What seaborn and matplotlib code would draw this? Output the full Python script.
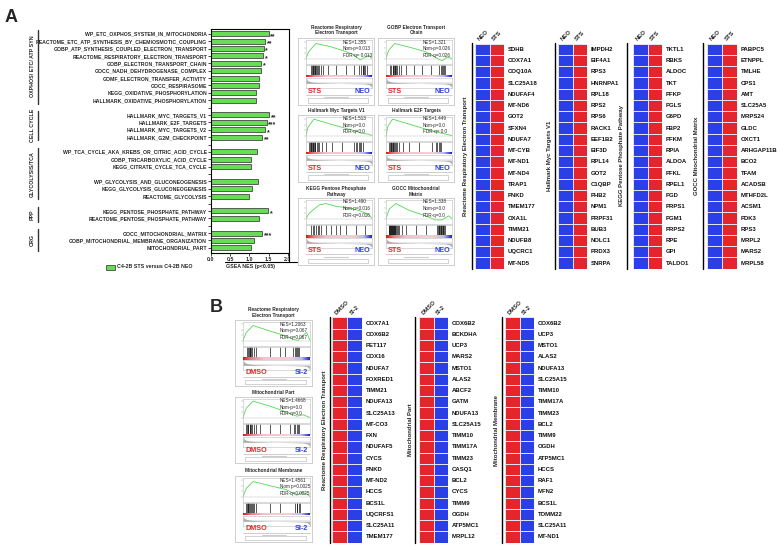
import numpy as np
import pandas as pd
import matplotlib
matplotlib.use("Agg")
import matplotlib.pyplot as plt
import seaborn as sns
from matplotlib.colors import ListedColormap, LinearSegmentedColormap
from matplotlib.patches import Rectangle
from matplotlib.lines import Line2D

# ---------------- data ----------------
pathways = [
    "WP_ETC_OXPHOS_SYSTEM_IN_MITOCHONDRIA",
    "REACTOME_ETC_ATP_SYNTHESIS_BY_CHEMIOSMOTIC_COUPLING",
    "GOBP_ATP_SYNTHESIS_COUPLED_ELECTRON_TRANSPORT",
    "REACTOME_RESPIRATORY_ELECTRON_TRANSPORT",
    "GOBP_ELECTRON_TRANSPORT_CHAIN",
    "GOCC_NADH_DEHYDROGENASE_COMPLEX",
    "GOMF_ELECTRON_TRANSFER_ACTIVITY",
    "GOCC_RESPIRASOME",
    "KEGG_OXIDATIVE_PHOSPHORYLATION",
    "HALLMARK_OXIDATIVE_PHOSPHORYLATION",
    "HALLMARK_MYC_TARGETS_V1",
    "HALLMARK_E2F_TARGETS",
    "HALLMARK_MYC_TARGETS_V2",
    "HALLMARK_G2M_CHECKPOINT",
    "WP_TCA_CYCLE_AKA_KREBS_OR_CITRIC_ACID_CYCLE",
    "GOBP_TRICARBOXYLIC_ACID_CYCLE",
    "KEGG_CITRATE_CYCLE_TCA_CYCLE",
    "WP_GLYCOLYSIS_AND_GLUCONEOGENESIS",
    "KEGG_GLYCOLYSIS_GLUCONEOGENESIS",
    "REACTOME_GLYCOLYSIS",
    "KEGG_PENTOSE_PHOSPHATE_PATHWAY",
    "REACTOME_PENTOSE_PHOSPHATE_PATHWAY",
    "GOCC_MITOCHONDRIAL_MATRIX",
    "GOBP_MITOCHONDRIAL_MEMBRANE_ORGANIZATION",
    "MITOCHONDRIAL_PART",
]
nes_values = [1.50, 1.41, 1.37, 1.355, 1.31, 1.30, 1.24, 1.24, 1.17, 1.16,
              1.513, 1.449, 1.41, 1.33,
              1.19, 1.05, 1.03,
              1.22, 1.08, 1.00,
              1.49, 1.26,
              1.338, 1.13, 1.03]
significance = ["**", "**", "*", "*", "*", "", "", "", "", "",
                "**", "***", "*", "**",
                "", "", "",
                "", "", "",
                "*", "",
                "***", "", ""]
pathway_block = [0] * 10 + [1] * 4 + [2] * 3 + [3] * 3 + [4] * 2 + [5] * 3
bracket_labels = ["OXPHOS/ ETC/ ATP SYN", "CELL CYCLE", "GLYCOLYSIS/TCA", "PPP", "ORG"]
bracket_blocks = [[0], [1], [2, 3], [4], [5]]
legend_label = "C4-2B STS versus C4-2B NEO"
x_ticks = [0.0, 0.5, 1.0, 1.5, 2.0]

# GSEA panels (panel A)
gsea_a_titles = ["Reactome Respiratory\nElectron Transport", "GOBP Electron Transport\nChain",
                 "Hallmark Myc Targets V1", "Hallmark E2F Targets",
                 "KEGG Pentose Phosphate\nPathway", "GOCC Mitochondrial\nMatrix"]
gsea_a_nes = ["NES=1.355", "NES=1.321", "NES=1.513", "NES=1.449", "NES=1.490", "NES=1.338"]
gsea_a_nomp = ["Nom-p=0.013", "Nom-p=0.026", "Nom-p=0.0", "Nom-p=0.0", "Nom-p=0.016", "Nom-p=0.0"]
gsea_a_fdr = ["FDR-q= 0.013", "FDR-q=0.026", "FDR-q=0.0", "FDR-q= 0.0", "FDR-q=0.016", "FDR-q=0.0"]
gsea_a_es_x = [
    [0, 0.04, 0.15, 0.35, 0.55, 0.72, 0.82, 0.90, 0.95, 1.0],
    [0, 0.04, 0.13, 0.35, 0.60, 0.78, 0.85, 0.93, 1.0],
    [0, 0.03, 0.12, 0.40, 0.70, 0.85, 0.95, 1.0],
    [0, 0.03, 0.10, 0.35, 0.65, 0.85, 1.0],
    [0, 0.05, 0.20, 0.30, 0.45, 0.60, 0.80, 0.95, 1.0],
    [0, 0.05, 0.15, 0.35, 0.60, 0.75, 0.85, 0.95, 1.0],
]
gsea_a_es_y = [
    [0, 0.25, 0.55, 0.45, 0.30, 0.15, -0.05, 0.05, 0.12, 0],
    [0, 0.30, 0.55, 0.42, 0.25, 0.00, -0.08, 0.05, 0],
    [0, 0.30, 0.60, 0.40, 0.20, 0.08, 0.05, 0],
    [0, 0.35, 0.60, 0.42, 0.20, 0.08, 0],
    [0, 0.20, 0.50, 0.55, 0.45, 0.40, 0.30, 0.15, 0],
    [0, 0.35, 0.55, 0.30, 0.10, -0.05, -0.05, 0.10, 0],
]
gsea_a_hits = [
    [0.08, 0.09, 0.10, 0.11, 0.12, 0.13, 0.14, 0.15, 0.16, 0.18, 0.20, 0.22, 0.25, 0.33,
     0.45, 0.60, 0.72, 0.80, 0.84, 0.86, 0.87, 0.88, 0.90, 0.92],
    [0.06, 0.08, 0.10, 0.11, 0.12, 0.13, 0.14, 0.15, 0.17, 0.19, 0.22, 0.30, 0.42, 0.55,
     0.68, 0.80, 0.83, 0.85, 0.86, 0.88, 0.90],
    [0.05, 0.06, 0.07, 0.08, 0.09, 0.10, 0.11, 0.12, 0.13, 0.14, 0.16, 0.18, 0.20, 0.24,
     0.30, 0.40, 0.55, 0.72, 0.76, 0.78, 0.80, 0.82, 0.84, 0.86],
    [0.05, 0.06, 0.07, 0.08, 0.09, 0.10, 0.11, 0.12, 0.13, 0.15, 0.17, 0.20, 0.25, 0.35,
     0.50, 0.70, 0.76, 0.78, 0.80, 0.82, 0.84],
    [0.07, 0.10, 0.12, 0.15, 0.18, 0.20, 0.23, 0.30, 0.38, 0.45, 0.52, 0.60, 0.75, 0.90],
    [0.04, 0.05, 0.06, 0.065, 0.07, 0.08, 0.085, 0.09, 0.10, 0.11, 0.115, 0.12, 0.13, 0.14,
     0.15, 0.16, 0.18, 0.20, 0.24, 0.30, 0.45, 0.60, 0.78, 0.79, 0.80, 0.81, 0.82, 0.83,
     0.84, 0.85, 0.86, 0.87, 0.88, 0.89],
]
rank_x = [0, 0.02, 0.05, 0.10, 0.20, 0.35, 0.50, 0.65, 0.80, 0.90, 0.96, 1.0]
rank_y = [1.0, 0.55, 0.35, 0.22, 0.12, 0.05, 0.0, -0.04, -0.08, -0.12, -0.25, -0.7]

# GSEA panels (panel B)
gsea_b_titles = ["Reactome Respiratory\nElectron Transport", "Mitochondrial Part", "Mitochondrial Membrane"]
gsea_b_nes = ["NES=1.2063", "NES=1.4668", "NES=1.4561"]
gsea_b_nomp = ["Nom-p=0.067", "Nom-p=0.0", "Nom p=0.0025"]
gsea_b_fdr = ["FDR-q=0.067", "FDR-q=0.0", "FDR-q=0.0025"]
gsea_b_es_x = [
    [0, 0.05, 0.15, 0.40, 0.60, 0.75, 0.82, 0.90, 0.95, 1.0],
    [0, 0.05, 0.15, 0.40, 0.65, 0.80, 0.90, 1.0],
    [0, 0.05, 0.15, 0.40, 0.65, 0.80, 0.88, 0.95, 1.0],
]
gsea_b_es_y = [
    [0, 0.30, 0.55, 0.35, 0.20, 0.05, 0.0, 0.20, 0.30, 0],
    [0, 0.35, 0.60, 0.42, 0.20, 0.05, 0.10, 0],
    [0, 0.30, 0.55, 0.40, 0.25, 0.05, 0.15, 0.10, 0],
]
gsea_b_hits = [
    [0.06, 0.08, 0.09, 0.10, 0.11, 0.12, 0.14, 0.16, 0.20, 0.40, 0.55, 0.62, 0.75, 0.77,
     0.79, 0.80, 0.82, 0.84],
    [0.05, 0.06, 0.07, 0.08, 0.10, 0.11, 0.12, 0.14, 0.16, 0.19, 0.25, 0.40, 0.55, 0.70,
     0.76, 0.78, 0.80, 0.82, 0.84],
    [0.05, 0.06, 0.07, 0.08, 0.09, 0.10, 0.12, 0.13, 0.15, 0.17, 0.20, 0.40, 0.55, 0.78,
     0.80, 0.81, 0.83, 0.85],
]

# Heatmaps panel A
heat_a_groups = ["Reactome Respiratory Electron Transport", "Hallmark Myc Targets V1",
                 "KEGG Pentose Phosphate Pathway", "GOCC Mitochondrial Matrix"]
heat_a_headers = ["NEO", "STS"]
heat_a_genes = [
    ["SDHB", "COX7A1", "COQ10A", "SLC25A18", "NDUFAF4", "MT-ND6", "GOT2", "SFXN4", "NDUFA7",
     "MT-CYB", "MT-ND1", "MT-ND4", "TRAP1", "PNKD", "TMEM177", "OXA1L", "TIMM21", "NDUFB8",
     "UQCRC1", "MT-ND5"],
    ["IMPDH2", "EIF4A1", "RPS3", "HNRNPA1", "RPL18", "RPS2", "RPS6", "RACK1", "EEF1B2", "EIF3D",
     "RPL14", "GOT2", "C1QBP", "PHB2", "NPM1", "PRPF31", "BUB3", "NOLC1", "PRDX3", "SNRPA"],
    ["TKTL1", "RBKS", "ALDOC", "TKT", "PFKP", "PGLS", "G6PD", "FBP2", "PFKM", "RPIA", "ALDOA",
     "PFKL", "RPEL1", "PGD", "PRPS1", "PGM1", "PRPS2", "RPE", "GPI", "TALDO1"],
    ["PABPC5", "ETNPPL", "TMLHE", "CPS1", "AMT", "SLC25A5", "MRPS24", "GLDC", "OXCT1",
     "ARHGAP11B", "BCO2", "TFAM", "ACADSB", "MTHFD2L", "ACSM1", "PDK3", "RPS3", "MRPL2",
     "MARS2", "MRPL58"],
]
heat_a_z = [-1, 1]   # NEO low, STS high (every row)

# Heatmaps panel B
heat_b_groups = ["Reactome Respiratory Electron Transport", "Mitochondrial Part", "Mitochondrial Membrane"]
heat_b_headers = ["DMSO", "SI-2"]
heat_b_genes = [
    ["COX7A1", "COX6B2", "PET117", "COX16", "NDUFA7", "FOXRED1", "TIMM21", "NDUFA13",
     "SLC25A13", "MT-CO3", "FXN", "NDUFAF5", "CYCS", "PNKD", "MT-ND2", "HCCS", "BCS1L",
     "UQCRFS1", "SLC25A11", "TMEM177"],
    ["COX6B2", "BCKDHA", "UCP3", "MARS2", "MSTO1", "ALAS2", "ABCF2", "GATM", "NDUFA13",
     "SLC25A15", "TIMM10", "TIMM17A", "TIMM23", "CASQ1", "BCL2", "CYCS", "TIMM9", "OGDH",
     "ATP5MC1", "MRPL12"],
    ["COX6B2", "UCP3", "MSTO1", "ALAS2", "NDUFA13", "SLC25A15", "TIMM10", "TIMM17A", "TIMM23",
     "BCL2", "TIMM9", "OGDH", "ATP5MC1", "HCCS", "RAF1", "MFN2", "BCS1L", "TOMM22",
     "SLC25A11", "MT-ND1"],
]
heat_b_z = [1, -1]   # DMSO high, SI-2 low (every row)

# ---------------- style ----------------
sns.set_theme(style="white")
plt.rcParams["font.family"] = ["Liberation Sans", "DejaVu Sans"]
GREEN = "#66dd55"
RED = "#e4262c"
BLUE = "#2b3fe6"
W, H = 784, 550
fig = plt.figure(figsize=(7.84, 5.5), dpi=100)


def box(x0, y0, x1, y1):
    return [x0 / W, 1 - y1 / H, (x1 - x0) / W, (y1 - y0) / H]


def ftxt(x, y, s, **kw):
    return fig.text(x / W, 1 - y / H, s, **kw)


def fline(xs, ys, **kw):
    fig.add_artist(Line2D([x / W for x in xs], [1 - y / H for y in ys], **kw))


# ---------------- panel A : bar chart ----------------
order = []
labels = []
prev = None
blank = 0
for p, b in zip(pathways, pathway_block):
    if prev is not None and b != prev:
        blank += 1
        order.append(" " * blank)
        labels.append("")
    order.append(p)
    labels.append(p)
    prev = b
pos = {name: i for i, name in enumerate(order)}
df = pd.DataFrame({"Pathway": pathways, "NES": nes_values})

ax = fig.add_axes(box(211, 29, 289, 253))
sns.barplot(data=df, x="NES", y="Pathway", order=order, orient="h", color=GREEN,
            saturation=1, width=0.68, edgecolor="#2a2a2a", linewidth=0.5,
            errorbar=None, ax=ax)
ax.set_xlim(0, 2.03)
ax.set_ylim(len(order) - 0.3, -0.65)
ax.set_yticks(range(len(order)))
ax.set_yticklabels(labels, fontsize=3.7, fontweight="bold")
ax.set_xticks(x_ticks)
ax.set_xticklabels([f"{t:.1f}" for t in x_ticks], fontsize=3.8, fontweight="bold")
ax.tick_params(axis="y", left=True, length=2.2, width=0.5, pad=0.6, color="black")
ax.tick_params(axis="x", bottom=True, length=2.0, width=0.5, pad=0.8, color="black")
ax.set_xlabel("")
ax.set_ylabel("")
for s in ["left", "bottom", "top"]:
    ax.spines[s].set_color("black")
    ax.spines[s].set_linewidth(0.8)
ax.spines["right"].set_visible(False)
for p, v, st in zip(pathways, nes_values, significance):
    if st:
        ax.text(v + 0.04, pos[p] + 0.35, st, fontsize=5, fontweight="bold", va="center",
                ha="left")

ytrans = ax.get_yaxis_transform()
for lab, blocks in zip(bracket_labels, bracket_blocks):
    rows = [pos[p] for p, b in zip(pathways, pathway_block) if b in blocks]
    y0, y1 = min(rows) - 0.55, max(rows) + 0.45
    ax.plot([-2.22, -2.22], [y0, y1], transform=ytrans, color="#333333", lw=1.0,
            clip_on=False)
    ax.text(-2.29, (y0 + y1) / 2, lab, transform=ytrans, rotation=90, ha="center",
            va="center", fontsize=3.8, fontweight="bold", clip_on=False)

fline([289, 289], [29, 262], color="black", lw=0.8)
fline([225, 297], [262, 262], color="black", lw=0.8)
ftxt(250, 266.5, "GSEA NES (p<0.05)", ha="center", va="center", fontsize=3.8,
     fontweight="bold")
fig.add_artist(Rectangle((106 / W, 1 - 269.5 / H), 9 / W, 5 / H, facecolor=GREEN,
                         edgecolor="#2a2a2a", lw=0.5))
ftxt(117, 267, legend_label, ha="left", va="center", fontsize=3.8, fontweight="bold")

ftxt(11, 17.5, "A", ha="center", va="center", fontsize=13, fontweight="bold")
ftxt(216, 307, "B", ha="center", va="center", fontsize=13, fontweight="bold")

# ---------------- GSEA mini panels ----------------
bar_cmap = LinearSegmentedColormap.from_list(
    "rb", [(0, "#e01818"), (0.12, "#f07a8a"), (0.3, "#f6c0cc"), (0.7, "#f6cfd8"),
           (0.88, "#b8b8ee"), (1, "#2020c8")])


def gsea_panel(x0, y0, w, h, title, title_y, nes, nomp, fdr, es_x, es_y, hits, ll, rl):
    bg = fig.add_axes(box(x0, y0, x0 + w, y0 + h))
    bg.set_xticks([])
    bg.set_yticks([])
    for s in bg.spines.values():
        s.set_color("#c8c8c8")
        s.set_linewidth(0.6)
    ftxt(x0 + w / 2, title_y, title, ha="center", va="center", fontsize=3.4,
         fontweight="bold", linespacing=1.15)
    left = x0 + 8
    right = x0 + w - 2
    # enrichment score
    ax_es = fig.add_axes(box(left, y0 + 2, right, y0 + 26))
    sns.lineplot(x=es_x, y=es_y, ax=ax_es, color="#55d655", lw=0.6, sort=False)
    ax_es.axhline(0, color="#bbbbbb", lw=0.3)
    ax_es.set_xlim(0, 1)
    ax_es.set_ylim(-0.2, 0.68)
    ax_es.set_xticks([])
    ax_es.set_yticks([0, 0.2, 0.4, 0.6])
    ax_es.set_yticklabels([])
    ax_es.tick_params(axis="y", left=True, length=1.2, width=0.3, color="#999999")
    ax_es.set_xlabel("")
    ax_es.set_ylabel("")
    for s in ax_es.spines.values():
        s.set_color("#bbbbbb")
        s.set_linewidth(0.4)
    ftxt(x0 + 45, y0 + 4, nes, ha="left", va="center", fontsize=3.3)
    ftxt(x0 + 45, y0 + 10.5, nomp, ha="left", va="center", fontsize=3.3)
    ftxt(x0 + 45, y0 + 17, fdr, ha="left", va="center", fontsize=3.3)
    # hits barcode
    ax_b = fig.add_axes(box(left, y0 + 27, right, y0 + 37))
    ax_b.vlines(hits, 0, 1, color="black", lw=0.45)
    ax_b.set_xlim(0, 1)
    ax_b.set_ylim(0, 1)
    ax_b.set_xticks([])
    ax_b.set_yticks([])
    for s in ax_b.spines.values():
        s.set_color("#bbbbbb")
        s.set_linewidth(0.4)
    # rank colour bar
    ax_c = fig.add_axes(box(left, y0 + 37, right, y0 + 39.5))
    ax_c.imshow(np.linspace(0, 1, 200)[None, :], aspect="auto", cmap=bar_cmap)
    ax_c.set_axis_off()
    # ranked metric
    ax_m = fig.add_axes(box(left, y0 + 39.5, right, y0 + 50))
    ax_m.fill_between(rank_x, rank_y, 0, color="#b4b4b4", lw=0)
    ax_m.axhline(0, color="#999999", lw=0.3)
    ax_m.set_xlim(0, 1)
    ax_m.set_ylim(-0.8, 1.0)
    ax_m.set_xticks([])
    ax_m.set_yticks([])
    for s in ax_m.spines.values():
        s.set_color("#bbbbbb")
        s.set_linewidth(0.4)
    ftxt(x0 + 10, y0 + 53, ll, ha="left", va="center", fontsize=5.2,
         fontweight="bold", color=RED)
    ftxt(x0 + w - 4, y0 + 53, rl, ha="right", va="center", fontsize=5.2,
         fontweight="bold", color=BLUE)
    # bottom axis + legend box
    fline([left, right], [y0 + 56.5, y0 + 56.5], color="#aaaaaa", lw=0.4)
    fline([x0 + w / 2 - 12, x0 + w / 2 + 12], [y0 + 58.5, y0 + 58.5], color="#cccccc", lw=0.8)
    fig.add_artist(Rectangle(((x0 + 10) / W, 1 - (y0 + h - 2.5) / H), (w - 16) / W, 4 / H,
                             facecolor="white", edgecolor="#b0b0b0", lw=0.4))


a_cols = [298, 378]
a_tops = [38, 115, 198]
a_title_y = [30, 110.7, 191.5]
for k in range(6):
    r, c = divmod(k, 2)
    gsea_panel(a_cols[c], a_tops[r], 76, 67, gsea_a_titles[k], a_title_y[r],
               gsea_a_nes[k], gsea_a_nomp[k], gsea_a_fdr[k], gsea_a_es_x[k],
               gsea_a_es_y[k], gsea_a_hits[k], "STS", "NEO")

b_tops = [320, 397, 476]
b_title_y = [312.5, 392, 471]
for k in range(3):
    gsea_panel(235, b_tops[k], 77, 66, gsea_b_titles[k], b_title_y[k], gsea_b_nes[k],
               gsea_b_nomp[k], gsea_b_fdr[k], gsea_b_es_x[k], gsea_b_es_y[k],
               gsea_b_hits[k], "DMSO", "SI-2")

# ---------------- heatmaps ----------------
hm_cmap = ListedColormap([BLUE, RED])


def heat(x0, x1, top, bottom, genes, z, headers, group, line_x, lab_x, lab_y):
    axh = fig.add_axes(box(x0, top, x1, bottom))
    dfh = pd.DataFrame([z for _ in genes], index=genes, columns=headers)
    sns.heatmap(dfh, ax=axh, cmap=hm_cmap, vmin=-1, vmax=1, cbar=False,
                linewidths=0.7, linecolor="#e4e0f2", xticklabels=False,
                yticklabels=False)
    axh.set_xlabel("")
    axh.set_ylabel("")
    colw = (x1 - x0) / 2.0
    for i, g in enumerate(genes):
        axh.text(2 + 4.0 / colw, i + 0.5, g, ha="left", va="center", fontsize=4.3,
                 fontweight="bold", color="#111111", clip_on=False)
    for j, hd in enumerate(headers):
        axh.text(j + 0.5 - 2.0 / colw, -0.15, hd, rotation=45, rotation_mode="anchor",
                 ha="left", va="bottom", fontsize=4.3, fontweight="bold", clip_on=False)
    fline([line_x, line_x], [top - 0.5, bottom], color="black", lw=1.0)
    ftxt(lab_x, lab_y, group, rotation=90, ha="center", va="center", fontsize=4.3,
         fontweight="bold")


a_x = [(475, 504), (558, 587), (633, 662), (707, 737)]
a_line = [471.7, 555, 627, 703]
a_lab = [466, 549, 621, 697]
for k in range(4):
    heat(a_x[k][0], a_x[k][1], 43.7, 268.7, heat_a_genes[k], heat_a_z, heat_a_headers,
         heat_a_groups[k], a_line[k], a_lab[k], 156)

b_x = [(332, 362), (419, 448), (505, 534)]
b_line = [330, 415, 502]
b_lab = [324.5, 410, 496.5]
for k in range(3):
    heat(b_x[k][0], b_x[k][1], 317.4, 542.6, heat_b_genes[k], heat_b_z, heat_b_headers,
         heat_b_groups[k], b_line[k], b_lab[k], 430)

fig.savefig("out.png", dpi=100)
